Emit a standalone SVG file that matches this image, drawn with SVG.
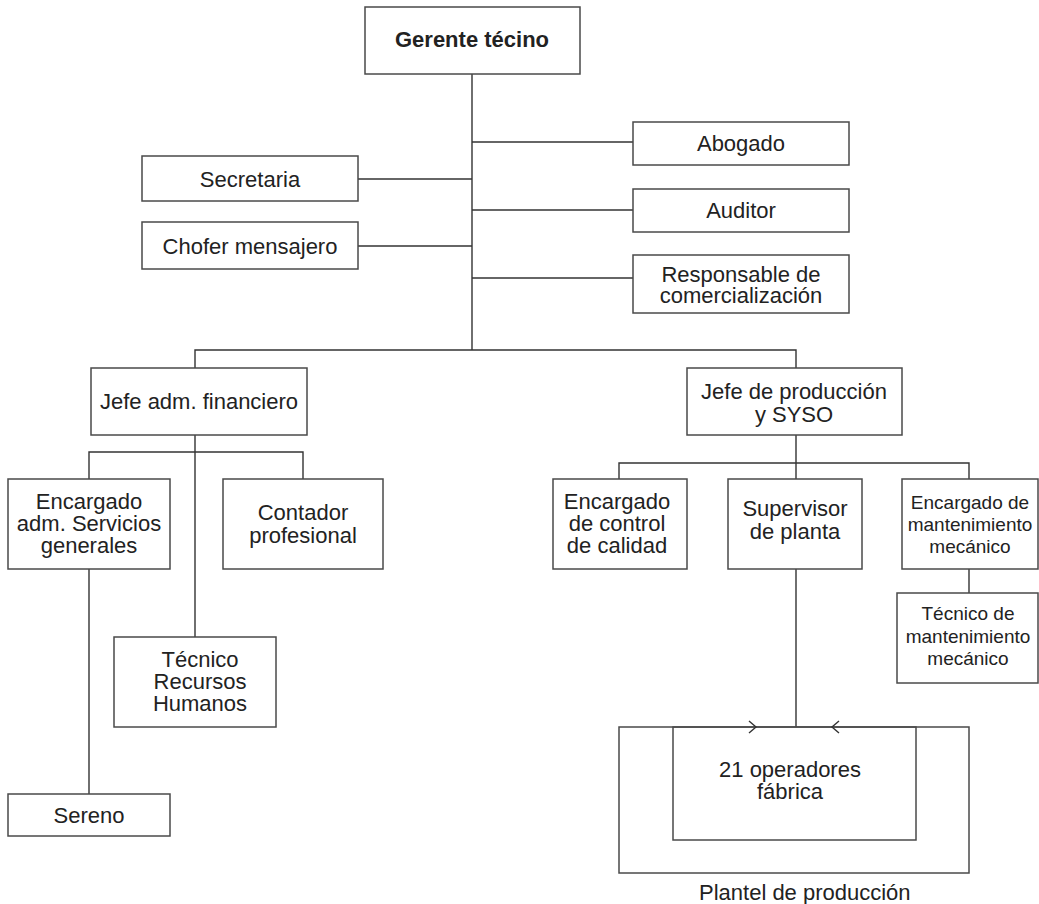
<svg xmlns="http://www.w3.org/2000/svg" width="1039" height="904" viewBox="0 0 1039 904">
  <style>
    .box { fill: #ffffff; stroke: #4a4a4a; stroke-width: 1.5; }
    .frame { fill: none; stroke: #4a4a4a; stroke-width: 1.5; }
    .ln { fill: none; stroke: #333333; stroke-width: 1.4; }
    .lbl { font-family: "Liberation Sans", Arial, sans-serif; font-size: 22px; fill: #222222; text-anchor: middle; }
    .sm { font-size: 19px; }
    .bold { font-weight: bold; }
  </style>
  <rect width="1039" height="904" fill="#ffffff"/>

  <!-- connectors -->
  <g id="connectors" class="ln">
    <path d="M472,74 V350"/>
    <path d="M472,142 H633"/>
    <path d="M358,179 H472"/>
    <path d="M472,210 H633"/>
    <path d="M358,246 H472"/>
    <path d="M472,278 H633"/>
    <path d="M195,368 V350 H796 V368"/>
    <path d="M195,435 V637"/>
    <path d="M89,479 V452 H303 V479"/>
    <path d="M89,569 V794"/>
    <path d="M796,435 V463"/>
    <path d="M619,479 V463 H969 V479"/>
    <path d="M796,463 V479"/>
    <path d="M796,569 V727"/>
    <path d="M969,569 V593"/>
  </g>

  <g id="gerente">
    <rect class="box" x="365" y="7" width="215" height="67"/>
    <text class="lbl bold" x="472" y="47">Gerente técino</text>
  </g>
  <g id="abogado">
    <rect class="box" x="633" y="122" width="216" height="43"/>
    <text class="lbl" x="741" y="151">Abogado</text>
  </g>
  <g id="secretaria">
    <rect class="box" x="142" y="156" width="216" height="45"/>
    <text class="lbl" x="250" y="187">Secretaria</text>
  </g>
  <g id="auditor">
    <rect class="box" x="633" y="189" width="216" height="43"/>
    <text class="lbl" x="741" y="218">Auditor</text>
  </g>
  <g id="chofer">
    <rect class="box" x="142" y="222" width="216" height="47"/>
    <text class="lbl" x="250" y="254">Chofer mensajero</text>
  </g>
  <g id="responsable">
    <rect class="box" x="633" y="255" width="216" height="58"/>
    <text class="lbl" x="741" y="282">Responsable de</text>
    <text class="lbl" x="741" y="303">comercialización</text>
  </g>
  <g id="jefe-adm">
    <rect class="box" x="91" y="368" width="216" height="67"/>
    <text class="lbl" x="199" y="409">Jefe adm. financiero</text>
  </g>
  <g id="jefe-produccion">
    <rect class="box" x="687" y="368" width="215" height="67"/>
    <text class="lbl" x="794" y="399">Jefe de producción</text>
    <text class="lbl" x="794" y="422">y SYSO</text>
  </g>
  <g id="encargado-servicios">
    <rect class="box" x="8" y="479" width="162" height="90"/>
    <text class="lbl" x="89" y="509">Encargado</text>
    <text class="lbl" x="89" y="531">adm. Servicios</text>
    <text class="lbl" x="89" y="553">generales</text>
  </g>
  <g id="contador">
    <rect class="box" x="223" y="479" width="160" height="90"/>
    <text class="lbl" x="303" y="520">Contador</text>
    <text class="lbl" x="303" y="543">profesional</text>
  </g>
  <g id="tecnico-rrhh">
    <rect class="box" x="114" y="637" width="162" height="90"/>
    <text class="lbl" x="200" y="667">Técnico</text>
    <text class="lbl" x="200" y="689">Recursos</text>
    <text class="lbl" x="200" y="711">Humanos</text>
  </g>
  <g id="sereno">
    <rect class="box" x="8" y="794" width="162" height="42"/>
    <text class="lbl" x="89" y="823">Sereno</text>
  </g>
  <g id="control-calidad">
    <rect class="box" x="553" y="479" width="134" height="90"/>
    <text class="lbl" x="617" y="509">Encargado</text>
    <text class="lbl" x="617" y="531">de control</text>
    <text class="lbl" x="617" y="553">de calidad</text>
  </g>
  <g id="supervisor">
    <rect class="box" x="728" y="479" width="134" height="90"/>
    <text class="lbl" x="795" y="516">Supervisor</text>
    <text class="lbl" x="795" y="539">de planta</text>
  </g>
  <g id="encargado-mantenimiento">
    <rect class="box" x="902" y="479" width="136" height="90"/>
    <text class="lbl sm" x="970" y="509">Encargado de</text>
    <text class="lbl sm" x="970" y="531">mantenimiento</text>
    <text class="lbl sm" x="970" y="553">mecánico</text>
  </g>
  <g id="tecnico-mantenimiento">
    <rect class="box" x="897" y="593" width="141" height="90"/>
    <text class="lbl sm" x="968" y="620">Técnico de</text>
    <text class="lbl sm" x="968" y="643">mantenimiento</text>
    <text class="lbl sm" x="968" y="665">mecánico</text>
  </g>
  <g id="plantel">
    <rect class="frame" x="619" y="727" width="350" height="146"/>
    <rect class="frame" x="673" y="727" width="243" height="113"/>
    <!-- open chevrons on the shared top edge -->
    <path class="ln" d="M749,721 L756,727 L749,733"/>
    <path class="ln" d="M839,721 L832,727 L839,733"/>
    <text class="lbl" x="790" y="777">21 operadores</text>
    <text class="lbl" x="790" y="799">fábrica</text>
    <text class="lbl" x="699" y="900" style="text-anchor:start">Plantel de producción</text>
  </g>
</svg>
